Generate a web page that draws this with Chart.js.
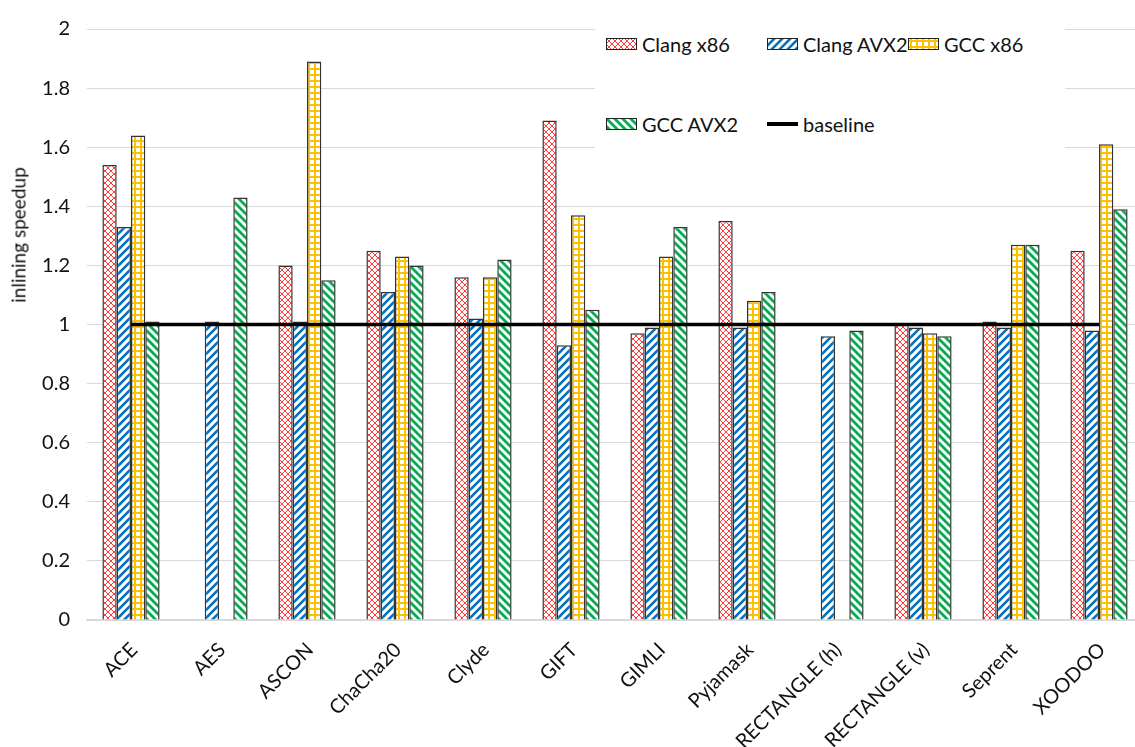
<!DOCTYPE html>
<html>
<head>
<meta charset="utf-8">
<script src="https://cdn.jsdelivr.net/npm/chart.js@4/dist/chart.umd.min.js"></script>
<style>
  html, body { margin: 0; padding: 0; background: #fff; overflow: hidden; }
  #wrap { position: relative; width: 1143px; height: 747px; font-family: Lato, "Open Sans", sans-serif; color: #111; }
  #yTitle { position: absolute; left: 18px; top: 235px; transform: translate(-50%, -50%) rotate(-90deg); font-size: 19px; white-space: nowrap; }
  #legend { position: absolute; left: 595px; top: 0; width: 470px; height: 160px; background: #fff; font-size: 20px; }
  .item { position: absolute; display: flex; align-items: center; height: 24px; }
  .item canvas { margin-right: 5px; }
  .line { width: 31px; height: 4px; background: #000; margin-right: 5px; }
</style>
</head>
<body>
<div id="wrap">
  <canvas id="chart" width="1143" height="747"></canvas>
  <div id="yTitle">inlining speedup</div>
  <div id="legend"></div>
</div>
<script>
// data
const categories = ['ACE', 'AES', 'ASCON', 'ChaCha20', 'Clyde', 'GIFT', 'GIMLI', 'Pyjamask', 'RECTANGLE (h)', 'RECTANGLE (v)', 'Seprent', 'XOODOO'];
const clangX86  = [1.54, null, 1.20, 1.25, 1.16, 1.69, 0.97, 1.35, null, 1.00, 1.01, 1.25];
const clangAvx2 = [1.33, 1.01, 1.01, 1.11, 1.02, 0.93, 0.99, 0.99, 0.96, 0.99, 0.99, 0.98];
const gccX86    = [1.64, null, 1.89, 1.23, 1.16, 1.37, 1.23, 1.08, null, 0.97, 1.27, 1.61];
const gccAvx2   = [1.01, 1.43, 1.15, 1.20, 1.22, 1.05, 1.33, 1.11, 0.98, 0.96, 1.27, 1.39];
const baseline  = [1, 1, 1, 1, 1, 1, 1, 1, 1, 1, 1, 1];
const yTicks = [0, 0.2, 0.4, 0.6, 0.8, 1, 1.2, 1.4, 1.6, 1.8, 2];

function makeTile(size, draw) {
    const c = document.createElement('canvas');
    c.width = size; c.height = size;
    const g = c.getContext('2d');
    g.fillStyle = '#ffffff';
    g.fillRect(0, 0, size, size);
    draw(g, size);
    return c;
}

const tiles = {
    red: makeTile(6, (g, s) => {
        g.strokeStyle = '#ff3b3b'; g.lineWidth = 1;
        g.beginPath();
        g.moveTo(0, 0); g.lineTo(s, s);
        g.moveTo(s, 0); g.lineTo(0, s);
        g.stroke();
    }),
    blue: makeTile(8, (g, s) => {
        g.strokeStyle = '#0070c0'; g.lineWidth = 2.6;
        g.beginPath();
        g.moveTo(-1, s + 1); g.lineTo(s + 1, -1);
        g.moveTo(-2, 2); g.lineTo(2, -2);
        g.moveTo(s - 2, s + 2); g.lineTo(s + 2, s - 2);
        g.stroke();
    }),
    yellow: makeTile(6, (g) => {
        // yellow lattice with white holes
        g.fillStyle = 'rgb(255, 192, 0)';
        g.fillRect(0, 2, 6, 2);
        g.fillRect(2, 0, 2, 6);
    }),
    green: makeTile(8, (g, s) => {
        g.strokeStyle = '#00b050'; g.lineWidth = 2.8;
        g.beginPath();
        g.moveTo(-1, -1); g.lineTo(s + 1, s + 1);
        g.moveTo(-2, s - 2); g.lineTo(2, s + 2);
        g.moveTo(s - 2, -2); g.lineTo(s + 2, 2);
        g.stroke();
    })
};

const ctx = document.getElementById('chart').getContext('2d');
const pat = k => ctx.createPattern(tiles[k], 'repeat');

const barStyle = { borderColor: '#333', borderWidth: 1.5, categoryPercentage: 0.65, barPercentage: 1, order: 2 };

new Chart(ctx, {
    type: 'bar',
    data: {
        labels: categories,
        datasets: [
            { label: 'Clang x86', data: clangX86, backgroundColor: pat('red'), ...barStyle },
            { label: 'Clang AVX2', data: clangAvx2, backgroundColor: pat('blue'), ...barStyle },
            { label: 'GCC x86', data: gccX86, backgroundColor: pat('yellow'), ...barStyle },
            { label: 'GCC AVX2', data: gccAvx2, backgroundColor: pat('green'), ...barStyle },
            { type: 'line', label: 'baseline', data: baseline, borderColor: '#000', borderWidth: 3.5, pointRadius: 0, fill: false, order: 1 }
        ]
    },
    options: {
        responsive: false,
        animation: false,
        devicePixelRatio: 1,
        layout: { padding: { top: 4, right: 0, left: 0, bottom: 0 } },
        plugins: { legend: { display: false }, tooltip: { enabled: false } },
        scales: {
            x: {
                grid: { display: false, drawTicks: false },
                border: { color: '#d9d9d9', width: 1.5 },
                ticks: { maxRotation: 45, minRotation: 45, autoSkip: false, padding: 18, labelOffset: 3, color: '#111', font: { family: 'Lato', size: 20 } },
                afterFit: s => { s.height = 127; }
            },
            y: {
                min: 0, max: 2,
                afterBuildTicks: s => { s.ticks = yTicks.map(v => ({ value: v })); },
                grid: { color: '#d9d9d9', lineWidth: 1, drawTicks: false },
                border: { display: false },
                ticks: { padding: 17, color: '#111', font: { family: 'Lato', size: 20 }, callback: v => String(Number(v.toFixed(1))) },
                afterFit: s => { s.width = 87; }
            }
        }
    }
});

// legend
const legendItems = [
    { label: 'Clang x86', tile: 'red', x: 11, y: 32 },
    { label: 'Clang AVX2', tile: 'blue', x: 172, y: 32 },
    { label: 'GCC x86', tile: 'yellow', x: 313, y: 32 },
    { label: 'GCC AVX2', tile: 'green', x: 11, y: 112 },
    { label: 'baseline', tile: null, x: 172, y: 112 }
];
const legend = document.getElementById('legend');
legendItems.forEach(it => {
    const d = document.createElement('div');
    d.className = 'item';
    d.style.left = it.x + 'px';
    d.style.top = it.y + 'px';
    if (it.tile) {
        const c = document.createElement('canvas');
        c.width = 31; c.height = 12;
        const g = c.getContext('2d');
        g.fillStyle = g.createPattern(tiles[it.tile], 'repeat');
        g.fillRect(0, 0, 31, 12);
        g.strokeStyle = '#222'; g.lineWidth = 1;
        g.strokeRect(0.5, 0.5, 30, 11);
        d.appendChild(c);
    } else {
        const l = document.createElement('div');
        l.className = 'line';
        d.appendChild(l);
    }
    const t = document.createElement('span');
    t.textContent = it.label;
    d.appendChild(t);
    legend.appendChild(d);
});
</script>
</body>
</html>
